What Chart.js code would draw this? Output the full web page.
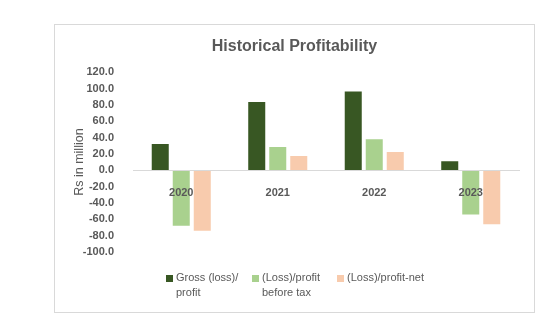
<!DOCTYPE html>
<html>
<head>
<meta charset="utf-8">
<script src="https://cdn.jsdelivr.net/npm/chart.js@4.4.1/dist/chart.umd.min.js"></script>
<style>
  html, body { margin: 0; padding: 0; background: #ffffff; }
  #wrap { position: relative; width: 549px; height: 328px; }
  #frame { position: absolute; left: 54px; top: 24px; width: 479px; height: 287px; border: 1px solid #d9d9d9; pointer-events: none; }
  canvas { position: absolute; left: 0; top: 0; }
  .leg { position: absolute; font-family: "Liberation Sans", Arial, sans-serif; font-size: 11px; line-height: 15px; color: #595959; white-space: pre; }
  .sw { position: absolute; width: 7px; height: 7px; }
</style>
</head>
<body>
<div id="wrap">
  <div id="frame"></div>
  <canvas id="c" width="549" height="328"></canvas>
</div>
<script>
const categories = ["2020", "2021", "2022", "2023"];
const seriesNames = ["Gross (loss)/\nprofit", "(Loss)/profit\nbefore tax", "(Loss)/profit-net"];
const grossProfit = [32, 83.5, 96.5, 11];
const profitBeforeTax = [-68, 28.5, 38, -54];
const profitNet = [-74, 17.5, 22.5, -66];
const yMin = -100, yMax = 120, yStep = 20;
const chartTitle = "Historical Profitability";
const yTitle = "Rs in million";
const colors = ["#385723", "#a9d18e", "#f8cbad"];

const seriesValues = [grossProfit, profitBeforeTax, profitNet];

const ctx = document.getElementById('c');
const chart = new Chart(ctx, {
  type: 'bar',
  data: {
    labels: categories,
    datasets: seriesValues.map((vals, i) => ({
      label: seriesNames[i].replace("\n", " "),
      data: vals,
      backgroundColor: colors[i],
      borderWidth: 0,
      categoryPercentage: 0.653,
      barPercentage: 0.81
    }))
  },
  options: {
    responsive: false,
    animation: false,
    devicePixelRatio: 1,
    layout: { padding: { left: 70, right: 30, top: 0, bottom: 76 } },
    plugins: {
      legend: { display: false },
      tooltip: { enabled: false },
      title: {
        display: true,
        text: chartTitle,
        color: '#595959',
        font: { family: '"Liberation Sans", Arial, sans-serif', size: 16, weight: 'bold', lineHeight: 1.2 },
        padding: { top: 37, bottom: 16 }
      }
    },
    scales: {
      x: {
        position: { y: 0 },
        grid: { display: false },
        border: { display: true, color: '#d9d9d9', width: 1, z: 1 },
        ticks: {
          z: 2,
          color: '#595959',
          padding: 8,
          font: { family: '"Liberation Sans", Arial, sans-serif', size: 11, weight: 'bold' }
        }
      },
      y: {
        min: yMin,
        max: yMax,
        grid: { display: false },
        border: { display: false },
        ticks: {
          stepSize: yStep,
          padding: 11,
          color: '#595959',
          font: { family: '"Liberation Sans", Arial, sans-serif', size: 11, weight: 'bold' },
          callback: v => Number(v).toFixed(1)
        },
        title: {
          display: true,
          text: yTitle,
          color: '#595959',
          font: { family: '"Liberation Sans", Arial, sans-serif', size: 12.5 },
          padding: { top: 2, bottom: 4 }
        },
        afterFit: s => { s.width = 63; }
      }
    }
  }
});

// HTML legend built from series names and colours
const wrap = document.getElementById('wrap');
const legX = [166, 252, 337];
seriesNames.forEach((name, i) => {
  const sw = document.createElement('div');
  sw.className = 'sw';
  sw.style.left = legX[i] + 'px';
  sw.style.top = '275px';
  sw.style.background = colors[i];
  wrap.appendChild(sw);
  const t = document.createElement('div');
  t.className = 'leg';
  t.style.left = (legX[i] + 10) + 'px';
  t.style.top = '270px';
  t.textContent = name;
  wrap.appendChild(t);
});
</script>
</body>
</html>
